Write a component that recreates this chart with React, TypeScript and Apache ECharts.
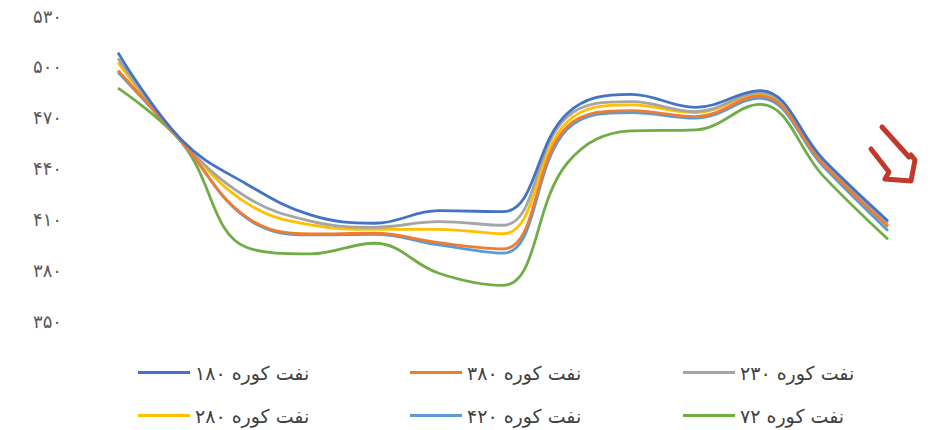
import React, { useEffect, useRef } from "react";
import * as echarts from "echarts";

const categories = ["1", "2", "3", "4", "5", "6", "7", "8", "9", "10", "11", "12", "13"];

const seriesNames = [
  "نفت کوره ۱۸۰",
  "نفت کوره ۳۸۰",
  "نفت کوره ۲۳۰",
  "نفت کوره ۲۸۰",
  "نفت کوره ۴۲۰",
  "نفت کوره ۷۲",
];

const fo180 = [508.4, 456.5, 430.9, 412.6, 407.7, 415.1, 414.5, 472.5, 483.8, 476.1, 486.0, 445.0, 409.0];
const fo380 = [497.8, 455.5, 411.4, 401.4, 401.8, 396.2, 392.5, 464.6, 474.1, 470.6, 482.8, 442.1, 405.7];
const fo230 = [505.0, 456.0, 423.2, 409.0, 405.3, 408.6, 406.5, 470.5, 479.5, 473.6, 484.8, 443.3, 408.0];
const fo280 = [502.5, 456.0, 419.7, 406.7, 404.1, 404.1, 401.5, 467.5, 477.5, 473.0, 484.0, 442.7, 406.5];
const fo420 = [496.8, 455.5, 410.8, 400.8, 401.2, 394.9, 390.0, 463.1, 473.0, 469.7, 481.5, 440.9, 403.3];
const fo72 = [487.4, 455.0, 393.5, 389.6, 395.9, 378.2, 371.0, 443.1, 462.2, 462.8, 477.9, 435.2, 398.2];

const seriesData = [fo180, fo380, fo230, fo280, fo420, fo72];
const colors = ["#4472C4", "#ED7D31", "#A5A5A5", "#FFC000", "#5B9BD5", "#70AD47"];

const yMin = 350;
const yMax = 530;
const yStep = 30;

const persianDigits = "۰۱۲۳۴۵۶۷۸۹";
const toPersian = (v: number | string) =>
  String(v).replace(/[0-9]/g, (d) => persianDigits[Number(d)]);

const FONT = "DejaVu Sans";

export default function App() {
  const ref = useRef<HTMLDivElement>(null);

  useEffect(() => {
    document.body.style.margin = "0";
    if (!ref.current) return;
    const chart = echarts.init(ref.current, null, { renderer: "svg" });

    const legendPos = [
      { left: 138, top: 363 },
      { left: 410, top: 363 },
      { left: 683, top: 363 },
      { left: 138, top: 406 },
      { left: 410, top: 406 },
      { left: 683, top: 406 },
    ];

    const option: any = {
      animation: false,
      color: colors,
      grid: { left: 118, right: 51, top: 16, bottom: 109 },
      xAxis: {
        type: "category",
        data: categories,
        boundaryGap: false,
        show: false,
      },
      yAxis: {
        type: "value",
        min: yMin,
        max: yMax,
        interval: yStep,
        axisLine: { show: false },
        axisTick: { show: false },
        splitLine: { show: false },
        axisLabel: {
          margin: 56,
          color: "#595959",
          fontSize: 18,
          fontFamily: FONT,
          formatter: (v: number) => toPersian(v),
        },
      },
      legend: seriesNames.map((name, i) => ({
        data: [{ name, icon: "rect" }],
        left: legendPos[i].left,
        top: legendPos[i].top,
        padding: 0,
        itemWidth: 52,
        itemHeight: 3,
        itemGap: 6,
        textStyle: { color: "#404040", fontSize: 19, fontFamily: FONT },
      })),
      series: seriesData.map((d, i) => ({
        name: seriesNames[i],
        type: "line",
        data: d,
        smooth: 0.4,
        symbol: "none",
        lineStyle: { width: 2.8, color: colors[i] },
        itemStyle: { color: colors[i] },
        z: 10 - i,
      })),
      graphic: [
        {
          type: "line",
          shape: { x1: 882, y1: 127, x2: 909, y2: 157 },
          style: { stroke: "#C0392B", lineWidth: 5, lineCap: "round" },
        },
        {
          type: "polyline",
          shape: {
            points: [
              [871, 149],
              [889, 172],
              [885, 179],
              [911, 181],
              [915, 160],
              [911, 155],
            ],
          },
          style: { stroke: "#C0392B", lineWidth: 5, lineCap: "round", lineJoin: "round", fill: null },
        },
      ],
    };

    chart.setOption(option);
    return () => chart.dispose();
  }, []);

  return <div ref={ref} style={{ width: 939, height: 430 }} />;
}
